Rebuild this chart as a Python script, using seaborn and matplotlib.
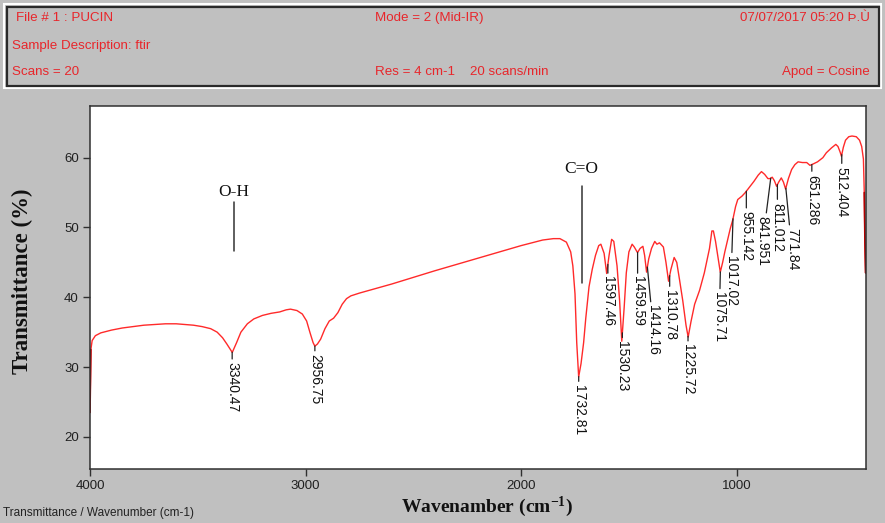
import numpy as np
import pandas as pd
import matplotlib
matplotlib.use("Agg")
import matplotlib.pyplot as plt
from matplotlib.patches import Rectangle
from matplotlib import font_manager
import seaborn as sns

# ---------------- data ----------------
wavenumber = [4000, 3998, 3996, 3990, 3975, 3950, 3900, 3850, 3800, 3750, 3700, 3650, 3600,
              3560, 3520, 3480, 3440, 3410, 3385, 3365, 3340, 3320, 3300, 3270, 3240, 3200,
              3160, 3120, 3090, 3070, 3040, 3015, 2995, 2980, 2965, 2957, 2945, 2930, 2910,
              2890, 2870, 2850, 2830, 2810, 2790, 2750, 2600, 2400, 2200, 2000, 1900, 1850,
              1820, 1790, 1770, 1760, 1750, 1742, 1733, 1722, 1710, 1700, 1685, 1670, 1655,
              1640, 1630, 1615, 1603, 1592, 1580, 1570, 1555, 1543, 1533, 1522, 1512, 1500,
              1485, 1475, 1460, 1448, 1435, 1427, 1418, 1408, 1395, 1380, 1370, 1358, 1340,
              1328, 1316, 1305, 1290, 1278, 1265, 1250, 1235, 1225, 1212, 1195, 1172, 1150,
              1126, 1115, 1108, 1098, 1088, 1076, 1065, 1055, 1040, 1030, 1018, 1005, 995,
              975, 960, 940, 920, 900, 885, 870, 855, 845, 835, 825, 815, 805, 793, 783, 773,
              760, 745, 730, 715, 695, 675, 660, 645, 625, 600, 584, 560, 540, 530, 520, 514,
              505, 495, 480, 465, 445, 430, 420, 412, 408, 405, 402]
transmittance = [23.5, 28.0, 32.5, 33.8, 34.5, 34.9, 35.3, 35.6, 35.8, 36.0, 36.1, 36.2, 36.2,
                 36.1, 36.0, 35.8, 35.5, 35.0, 34.2, 33.3, 32.1, 33.5, 35.0, 36.2, 36.9, 37.4,
                 37.7, 37.9, 38.2, 38.3, 38.1, 37.6, 36.6, 35.0, 33.5, 33.0, 33.3, 34.0, 35.5,
                 36.6, 37.0, 37.8, 39.0, 39.8, 40.2, 40.6, 41.9, 43.8, 45.6, 47.4, 48.2, 48.4,
                 48.4, 47.9, 46.5, 44.5, 40.5, 33.5, 28.6, 30.5, 33.5, 37.0, 41.5, 44.0, 46.0,
                 47.4, 47.6, 46.3, 43.4, 46.0, 48.3, 48.0, 44.5, 39.5, 33.7, 38.5, 43.5, 46.5,
                 47.6, 47.2, 46.4, 47.0, 47.3, 46.0, 43.6, 45.5, 47.0, 48.0, 47.6, 47.8, 47.2,
                 45.0, 42.3, 44.0, 45.7, 45.0, 42.5, 39.5, 36.0, 34.3, 36.5, 39.0, 41.0, 43.5,
                 47.0, 49.5, 49.5, 48.0, 46.0, 43.6, 45.0, 46.5, 48.5, 49.8, 51.1, 53.0, 54.0,
                 54.5, 55.0, 55.8, 56.6, 57.5, 58.0, 57.6, 57.0, 57.0, 57.2, 56.7, 55.9, 56.5,
                 57.1, 56.5, 55.5, 57.0, 58.3, 59.0, 59.4, 59.3, 59.3, 58.9, 59.1, 59.4, 60.0,
                 60.7, 61.4, 61.9, 61.6, 60.8, 60.2, 61.5, 62.5, 63.0, 63.1, 63.0, 62.5, 61.6,
                 59.8, 55.0, 48.0, 43.5]

peak_labels = ["3340.47", "2956.75", "1732.81", "1597.46", "1530.23", "1459.59", "1414.16",
               "1310.78", "1225.72", "1075.71", "1017.02", "955.142", "841.951", "811.012",
               "771.84", "651.286", "512.404"]
peak_wn = [float(s) for s in peak_labels]

group_labels = ["O-H", "C=O"]
group_wn = [3332, 1719]

x_ticks = [4000, 3000, 2000, 1000]
y_ticks = [20, 30, 40, 50, 60]

header_rows = [("File # 1 : PUCIN", "Mode = 2 (Mid-IR)", "07/07/2017 05:20 \u00de.\u00d9"),
               ("Sample Description: ftir", "", ""),
               ("Scans = 20", "Res = 4 cm-1    20 scans/min", "Apod = Cosine")]

# ---------------- fonts ----------------
names = {f.name for f in font_manager.fontManager.ttflist}
narrow = "Liberation Sans Narrow" if "Liberation Sans Narrow" in names else "Liberation Sans"
hdr_size = 11.0 if narrow == "Liberation Sans Narrow" else 9.6
sans = "Liberation Sans"
serif = "Liberation Serif"

sns.set_style("white")
plt.rcParams["font.family"] = [sans, "DejaVu Sans"]
plt.rcParams["mathtext.fontset"] = "custom"
plt.rcParams["mathtext.rm"] = "Liberation Serif:bold"
plt.rcParams["mathtext.it"] = "Liberation Serif:bold"
plt.rcParams["mathtext.bf"] = "Liberation Serif:bold"

W, H = 885, 523
fig = plt.figure(figsize=(W / 100, H / 100), dpi=100)
fig.patch.set_facecolor("#c0c0c0")


def fx(px):
    return px / W


def fy(py):
    return 1 - py / H


# header panel
fig.patches.append(Rectangle((fx(4), fy(88)), fx(877), 84 / H, transform=fig.transFigure,
                             fill=False, edgecolor="white", lw=1.5))
fig.patches.append(Rectangle((fx(6.5), fy(85.5)), fx(872), 79 / H, transform=fig.transFigure,
                             fill=False, edgecolor="#2a2a2a", lw=1.6))
red = "#e8262b"
row_y = [18, 46, 72]
for (l, m, r), yy in zip(header_rows, row_y):
    lx = 16 if l.startswith("File") else 12
    fig.text(fx(lx), fy(yy), l, color=red, fontsize=hdr_size, family=narrow, va="center", ha="left")
    if m:
        fig.text(fx(375), fy(yy), m, color=red, fontsize=hdr_size, family=narrow, va="center", ha="left")
    if r:
        fig.text(fx(870), fy(yy), r, color=red, fontsize=hdr_size, family=[narrow, "DejaVu Sans"],
                 va="center", ha="right")

# axes
ax = fig.add_axes([fx(90), fy(469), (866 - 90) / W, (469 - 106) / H])
ax.set_facecolor("white")
df = pd.DataFrame({"wn": wavenumber, "T": transmittance})
sns.lineplot(data=df, x="wn", y="T", ax=ax, color="#ff2a2a", lw=1.0, estimator=None, sort=False)
# dark red vertical drops at the edges
ax.plot(wavenumber[:3], transmittance[:3], color="#b00000", lw=1.2)
ax.plot(wavenumber[-3:], transmittance[-3:], color="#b00000", lw=1.2)

ax.set_xlim(4000, 400)
ax.set_ylim(15.4, 67.4)
ax.set_xticks(x_ticks)
ax.set_yticks(y_ticks)
ax.set_xticklabels([str(t) for t in x_ticks], fontsize=9.5, color="#202020")
ax.set_yticklabels([str(t) for t in y_ticks], fontsize=9.5, color="#202020")
ax.tick_params(axis="both", direction="out", length=5, width=1, color="#303030", pad=3,
               bottom=True, left=True)
for s in ax.spines.values():
    s.set_color("#303030")
    s.set_linewidth(1.1)

ax.set_xlabel("Wavenamber (cm$^{-1}$)", family=serif, fontweight="bold", fontsize=14,
              color="#111111", va="center")
ax.set_ylabel("Transmittance (%)", family=serif, fontweight="bold", fontsize=16.5,
              color="#111111", va="center")
ax.xaxis.set_label_coords((487 - 90) / (866 - 90), -(507 - 469) / (469 - 106))
ax.yaxis.set_label_coords(-(90 - 22) / (866 - 90), (469 - 281) / (469 - 106))

# peak annotations
wn_asc = np.array(wavenumber[::-1], dtype=float)
t_asc = np.array(transmittance[::-1], dtype=float)
offsets = {"3340.47": (0, -10), "2956.75": (0, -8), "1732.81": (0, -8), "1597.46": (0, -12),
           "1530.23": (0, -8), "1459.59": (0, -24), "1414.16": (6, -38), "1310.78": (0, -14),
           "1225.72": (0, -8), "1075.71": (-1, -20), "1017.02": (-2, -37), "955.142": (0, -20),
           "841.951": (-8, -38), "811.012": (0, -18), "771.84": (6, -40), "651.286": (0, -10),
           "512.404": (0, -12)}
for lab, wn in zip(peak_labels, peak_wn):
    t = float(np.interp(wn, wn_asc, t_asc))
    dx, dy = offsets[lab]
    ax.annotate(lab, xy=(wn, t), xytext=(dx, dy), textcoords="offset pixels",
                rotation=270, ha="center", va="top", fontsize=10, color="#111111",
                arrowprops=dict(arrowstyle="-", color="#222222", lw=0.9, shrinkA=0, shrinkB=0))

# group labels
grp_text_y = [55.1, 58.4]
grp_line = [(53.6, 46.6), (55.9, 42.1)]
for lab, wn, ty, (y0, y1) in zip(group_labels, group_wn, grp_text_y, grp_line):
    ax.text(wn, ty, lab, ha="center", va="center", family=serif, fontsize=12.5, color="#111111")
    ax.plot([wn, wn], [y0, y1], color="#333333", lw=1.1)

fig.text(fx(3), fy(513), "Transmittance / Wavenumber (cm-1)", fontsize=8.5,
         family=narrow, color="#222222", va="center", ha="left")

fig.savefig("out.png", dpi=100, facecolor=fig.get_facecolor())
